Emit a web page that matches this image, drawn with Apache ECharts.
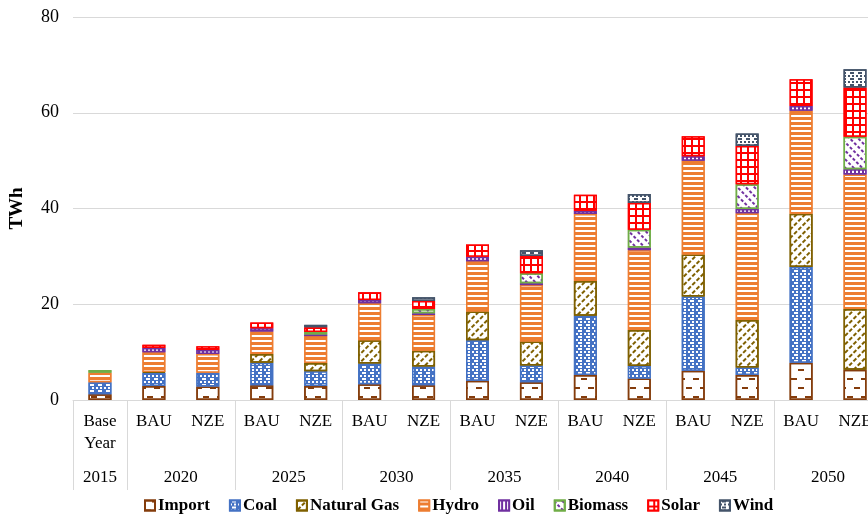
<!DOCTYPE html>
<html><head><meta charset="utf-8">
<script src="https://cdn.jsdelivr.net/npm/echarts@6/dist/echarts.min.js"></script>
<style>html,body{margin:0;padding:0;background:#fff}#c{width:868px;height:515px}</style>
</head><body><div id="c"></div>
<script>
// Bar labels (first level) and group labels (second level)
const categories = ['Base\nYear','BAU','NZE','BAU','NZE','BAU','NZE','BAU','NZE','BAU','NZE','BAU','NZE','BAU','NZE'];
const groupYears = ['2015','2020','2025','2030','2035','2040','2045','2050'];
const groupCenters = [0.5, 2, 4, 6, 8, 10, 12, 14];
const groupBounds = [0, 1, 3, 5, 7, 9, 11, 13, 15];

// Series values (TWh)
const importV  = [1.2, 2.9, 2.8, 3.1, 2.9, 3.3, 3.1, 4.0, 3.7, 5.2, 4.5, 6.1, 5.2, 7.8, 6.3];
const coalV    = [2.5, 2.8, 2.9, 4.7, 3.1, 4.35, 3.9, 8.5, 3.5, 12.4, 2.6, 15.5, 1.6, 20.0, 0];
const gasV     = [0, 0.15, 0, 1.8, 1.75, 4.85, 3.3, 6.0, 5.0, 7.25, 7.5, 8.8, 9.9, 11.1, 12.7];
const hydroV   = [2.0, 4.1, 3.9, 4.7, 5.6, 7.7, 7.45, 10.5, 11.8, 14.0, 16.7, 19.6, 22.3, 21.5, 28.1];
const oilV     = [0, 0.9, 0.85, 0.7, 0.35, 0.7, 0.35, 0.9, 0.4, 0.7, 0.55, 0.9, 0.9, 1.0, 1.1];
const biomassV = [0.55, 0, 0, 0, 0.5, 0, 0.9, 0, 2.1, 0, 3.7, 0, 5.15, 0, 6.8];
const solarV   = [0, 0.7, 0.8, 1.2, 1.0, 1.6, 1.7, 2.6, 3.6, 3.3, 5.6, 4.2, 8.0, 5.6, 10.3];
const windV    = [0, 0, 0, 0, 0.5, 0, 0.75, 0, 1.2, 0, 1.9, 0, 2.6, 0, 3.8];

const yTicks = [0, 20, 40, 60, 80];

const FONT = '"Liberation Serif", "Times New Roman", serif';

const defs = [
  {name:'Import', data:importV, fill:'#ffffff', edge:'#843C0C',
   decal:{color:'#843C0C', symbol:'rect', symbolSize:1, dashArrayX:[[6,8],[0,7,6,1]], dashArrayY:[2,7]}},
  {name:'Coal', data:coalV, fill:'#4472C4', edge:'#4472C4',
   decal:{color:'#ffffff', symbol:'rect', symbolSize:1, dashArrayX:[[2,2],[0,2,2]], dashArrayY:[2,1]}},
  {name:'Natural Gas', data:gasV, fill:'#ffffff', edge:'#7F6000',
   decal:{color:'#7F6000', symbol:'rect', symbolSize:1, dashArrayX:[4,2], dashArrayY:[1.5,4], rotation:-Math.PI/4}},
  {name:'Hydro', data:hydroV, fill:'#ED7D31', edge:'#ED7D31',
   decal:{color:'#ffffff', symbol:'rect', symbolSize:1, dashArrayX:[1,0], dashArrayY:[1.5,2.5]}},
  {name:'Oil', data:oilV, fill:'#7030A0', edge:'#7030A0',
   decal:{color:'#ffffff', symbol:'rect', symbolSize:1, dashArrayX:[1.5,2], dashArrayY:[1,0]}},
  {name:'Biomass', data:biomassV, fill:'#ffffff', edge:'#70AD47',
   decal:{color:'#7030A0', symbol:'rect', symbolSize:1, dashArrayX:[3,2], dashArrayY:[1.5,4], rotation:Math.PI/4}},
  {name:'Solar', data:solarV, fill:'#FF0000', edge:'#FF0000',
   decal:{color:'#ffffff', symbol:'rect', symbolSize:1, dashArrayX:[5,2], dashArrayY:[5,2]}},
  {name:'Wind', data:windV, fill:'#ffffff', edge:'#44546A',
   decal:{color:'#44546A', symbol:'rect', symbolSize:1, dashArrayX:[[2,2],[0,2,2]], dashArrayY:[2,1]}}
];

const series = defs.map(d => ({
  name: d.name,
  type: 'bar',
  stack: 'total',
  xAxisIndex: 0,
  barWidth: 23,
  data: d.data.map(v => v === 0 ? null : v),
  itemStyle: {color: d.fill, borderColor: d.edge, borderWidth: 1.5, decal: d.decal},
  emphasis: {disabled: true}
}));

const chart = echarts.init(document.getElementById('c'), null, {renderer:'canvas'});
chart.setOption({
  animation: false,
  aria: {enabled: false},
  grid: {left: 73, right: -14, top: 17, bottom: 115, containLabel: false, outerBoundsMode: 'none'},
  legend: {
    data: defs.map(d => d.name),
    top: 494, left: 141, padding: 3,
    itemWidth: 10, itemHeight: 10, itemGap: 19,
    icon: 'rect',
    textStyle: {fontFamily: FONT, fontSize: 17, fontWeight: 'bold', color: '#000', padding:[0,0,0,-2]}
  },
  xAxis: [
    {
      type: 'category', data: categories, position: 'bottom',
      axisLine: {show: true, lineStyle: {color: '#d9d9d9', width: 1}},
      axisTick: {show: false},
      axisLabel: {interval: 0, margin: 11, fontFamily: FONT, fontSize: 17, color: '#000', lineHeight: 22}
    },
    {
      type: 'value', min: 0, max: 15, position: 'bottom',
      axisLine: {show: false},
      splitLine: {show: false},
      axisTick: {show: true, inside: false, length: 90, customValues: groupBounds, lineStyle: {color: '#d9d9d9', width: 1}},
      axisLabel: {
        show: true, margin: 69, customValues: groupCenters,
        fontFamily: FONT, fontSize: 17, color: '#000',
        formatter: v => { const i = groupCenters.indexOf(v); return i >= 0 ? groupYears[i] : ''; }
      }
    }
  ],
  yAxis: {
    type: 'value', min: yTicks[0], max: yTicks[yTicks.length-1], interval: 20,
    name: 'TWh', nameLocation: 'middle', nameRotate: 90, nameGap: 46,
    nameTextStyle: {fontFamily: FONT, fontSize: 19, fontWeight: 'bold', color: '#000'},
    axisLine: {show: false}, axisTick: {show: false},
    axisLabel: {margin: 14, fontFamily: FONT, fontSize: 18, color: '#000'},
    splitLine: {lineStyle: {color: '#d9d9d9', width: 1}}
  },
  series: series
});
</script></body></html>
